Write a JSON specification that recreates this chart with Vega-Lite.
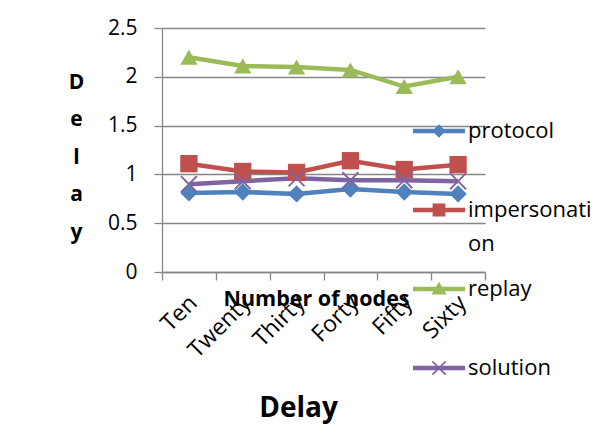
{
  "$schema": "https://vega.github.io/schema/vega-lite/v6.json",
  "autosize": "none",
  "width": 323,
  "height": 244,
  "padding": {"left": 162, "top": 28, "right": 121, "bottom": 169},
  "background": "white",
  "data": {"values": [
    {"nodes": "Ten", "series": "protocol", "delay": 0.81},
    {"nodes": "Twenty", "series": "protocol", "delay": 0.82},
    {"nodes": "Thirty", "series": "protocol", "delay": 0.80},
    {"nodes": "Forty", "series": "protocol", "delay": 0.85},
    {"nodes": "Fifty", "series": "protocol", "delay": 0.82},
    {"nodes": "Sixty", "series": "protocol", "delay": 0.80},
    {"nodes": "Ten", "series": "impersonation", "delay": 1.11},
    {"nodes": "Twenty", "series": "impersonation", "delay": 1.03},
    {"nodes": "Thirty", "series": "impersonation", "delay": 1.02},
    {"nodes": "Forty", "series": "impersonation", "delay": 1.14},
    {"nodes": "Fifty", "series": "impersonation", "delay": 1.05},
    {"nodes": "Sixty", "series": "impersonation", "delay": 1.10},
    {"nodes": "Ten", "series": "replay", "delay": 2.2},
    {"nodes": "Twenty", "series": "replay", "delay": 2.11},
    {"nodes": "Thirty", "series": "replay", "delay": 2.1},
    {"nodes": "Forty", "series": "replay", "delay": 2.07},
    {"nodes": "Fifty", "series": "replay", "delay": 1.9},
    {"nodes": "Sixty", "series": "replay", "delay": 2.0},
    {"nodes": "Ten", "series": "solution", "delay": 0.9},
    {"nodes": "Twenty", "series": "solution", "delay": 0.93},
    {"nodes": "Thirty", "series": "solution", "delay": 0.96},
    {"nodes": "Forty", "series": "solution", "delay": 0.94},
    {"nodes": "Fifty", "series": "solution", "delay": 0.94},
    {"nodes": "Sixty", "series": "solution", "delay": 0.93}
  ]},
  "title": {
    "text": "Delay",
    "orient": "bottom",
    "frame": "group",
    "anchor": "middle",
    "baseline": "top",
    "offset": -18,
    "dx": -25,
    "font": "Open Sans",
    "fontSize": 28,
    "fontWeight": "bold",
    "color": "black"
  },
  "encoding": {
    "x": {
      "field": "nodes",
      "type": "nominal",
      "sort": ["Ten", "Twenty", "Thirty", "Forty", "Fifty", "Sixty"],
      "scale": {"type": "band", "paddingInner": 0, "paddingOuter": 0},
      "bandPosition": 0.5,
      "axis": {
        "title": "Number of nodes",
        "titleFont": "Open Sans",
        "titleFontSize": 21.5,
        "titleFontWeight": "bold",
        "titleColor": "black",
        "titleX": 154,
        "titleY": 16,
        "titleAlign": "center",
        "titleBaseline": "top",
        "tickBand": "extent",
        "labelAngle": -45,
        "labelAlign": "right",
        "labelBaseline": "middle",
        "labelFont": "Open Sans",
        "labelFontSize": 23,
        "labelColor": "black",
        "labelPadding": 19,
        "labelOffset": 4,
        "domainColor": "#868686",
        "domainWidth": 1.3,
        "tickColor": "#868686",
        "tickWidth": 1.3,
        "tickSize": 8,
        "grid": false
      }
    },
    "y": {
      "field": "delay",
      "type": "quantitative",
      "scale": {"domain": [0, 2.5], "nice": false, "zero": true},
      "axis": {
        "title": ["D", "e", "l", "a", "y"],
        "titleAngle": 0,
        "titleFont": "Open Sans",
        "titleFontSize": 21,
        "titleFontWeight": "bold",
        "titleColor": "black",
        "titleAlign": "center",
        "titleBaseline": "alphabetic",
        "titleLineHeight": 37.5,
        "titleX": -86,
        "titleY": 60,
        "values": [0, 0.5, 1, 1.5, 2, 2.5],
        "labelExpr": "'' + datum.value",
        "labelFont": "Open Sans",
        "labelFontSize": 21,
        "labelColor": "black",
        "labelPadding": 17,
        "domainColor": "#868686",
        "domainWidth": 1.3,
        "tickColor": "#868686",
        "tickWidth": 1.3,
        "tickSize": 8,
        "gridColor": "#868686",
        "gridWidth": 1.3
      }
    },
    "color": {
      "field": "series",
      "type": "nominal",
      "sort": ["protocol", "impersonation", "replay", "solution"],
      "scale": {
        "domain": ["protocol", "impersonation", "replay", "solution"],
        "range": ["#4F81BD", "#C0504D", "#9BBB59", "#8064A2"]
      },
      "legend": {
        "title": null,
        "orient": "none",
        "legendX": 266,
        "legendY": 92,
        "padding": 0,
        "symbolSize": 256,
        "labelFont": "Open Sans",
        "labelFontSize": 22,
        "labelColor": "black",
        "labelOffset": 18,
        "labelLimit": 300,
        "rowPadding": 23,
        "labelExpr": "datum.label === 'impersonation' ? ['impersonati', 'on'] : [datum.label, '']",
        "encode": {
          "labels": {
            "update": {"lineHeight": {"value": 34}}
          },
          "symbols": {
            "update": {
              "shape": {"signal": "datum.value === 'protocol' ? 'M-3.25,-0.28H3.25V0.28H-3.25Z M0,-0.85L0.85,0L0,0.85L-0.85,0Z' : datum.value === 'impersonation' ? 'M-3.25,-0.28H3.25V0.28H-3.25Z M-0.8,-0.8H0.8V0.8H-0.8Z' : datum.value === 'replay' ? 'M-3.25,-0.28H3.25V0.28H-3.25Z M0,-0.9L0.95,0.7H-0.95Z' : 'M-3.25,-0.28H3.25V0.28H-3.25Z M-0.9,-0.75L-0.75,-0.9L0,-0.15L0.75,-0.9L0.9,-0.75L0.15,0L0.9,0.75L0.75,0.9L0,0.15L-0.75,0.9L-0.9,0.75L-0.15,0Z'"},
              "fill": {"signal": "scale('color', datum.value)"},
              "fillOpacity": {"value": 1},
              "stroke": {"value": "transparent"},
              "strokeWidth": {"value": 0},
              "opacity": {"value": 1}
            }
          }
        }
      }
    }
  },
  "layer": [
    {
      "mark": {"type": "line", "strokeWidth": 4.5}
    },
    {
      "transform": [{"filter": "datum.series === 'protocol'"}],
      "mark": {"type": "point", "filled": true, "opacity": 1, "size": 300, "shape": "diamond"}
    },
    {
      "transform": [{"filter": "datum.series === 'impersonation'"}],
      "mark": {"type": "point", "filled": true, "opacity": 1, "size": 300, "shape": "square"}
    },
    {
      "transform": [{"filter": "datum.series === 'replay'"}],
      "mark": {"type": "point", "filled": true, "opacity": 1, "size": 300, "shape": "triangle-up"}
    },
    {
      "transform": [{"filter": "datum.series === 'solution'"}],
      "mark": {"type": "point", "filled": true, "opacity": 1, "size": 300, "shape": "M-1,-0.85L-0.85,-1L0,-0.15L0.85,-1L1,-0.85L0.15,0L1,0.85L0.85,1L0,0.15L-0.85,1L-1,0.85L-0.15,0Z"}
    }
  ],
  "config": {
    "view": {"stroke": null}
  }
}
